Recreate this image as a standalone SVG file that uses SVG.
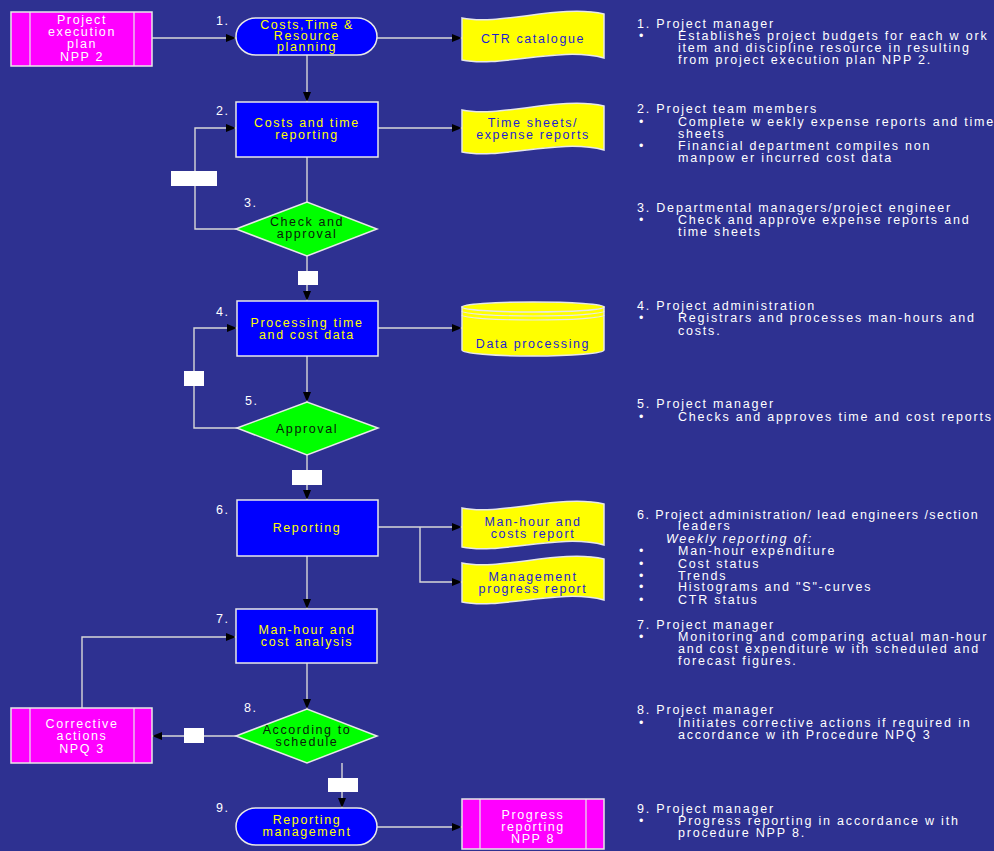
<svg xmlns="http://www.w3.org/2000/svg" width="994" height="851" viewBox="0 0 994 851">
<defs>
<style>
.bg{fill:#2E3191}
.blue{fill:#0000FF;stroke:#E8E8E8;stroke-width:1.5}
.mag{fill:#FF00FF;stroke:#E8E8E8;stroke-width:1.5}
.grn{fill:#00FF00;stroke:#E8E8E8;stroke-width:1.5}
.yel{fill:#FFFF00;stroke:#E8E8E8;stroke-width:1.5}
.rim{fill:none;stroke:#E8E8E8;stroke-width:1.2}
.conn{fill:none;stroke:#D8D8D8;stroke-width:1.4}
.lbl{fill:#FFFFFF}
text{font-family:"Liberation Sans",Arial,sans-serif;font-size:12.5px;letter-spacing:1.6px}
.d{letter-spacing:1.8px}
.n{letter-spacing:1.45px}
.c{text-anchor:middle}
.ty{fill:#FFFF00}
.tw{fill:#FFFFFF}
.tb{fill:#1E1ED2}
.tk{fill:#0A1A0A}
.it{font-style:italic}
</style>
<marker id="ah" markerWidth="10" markerHeight="8" refX="10" refY="4" orient="auto" markerUnits="userSpaceOnUse">
<path d="M0,0 L10,4 L0,8 Z" fill="#000"/>
</marker>
</defs>
<rect class="bg" x="0" y="0" width="994" height="851"/>

<g id="connectors">
<path class="conn" d="M152,38 L236,38" marker-end="url(#ah)"/>
<path class="conn" d="M377,38 L462,38" marker-end="url(#ah)"/>
<path class="conn" d="M307,55 L307,102" marker-end="url(#ah)"/>
<path class="conn" d="M378,128 L462,128" marker-end="url(#ah)"/>
<path class="conn" d="M307,157 L307,202"/>
<path class="conn" d="M236,229 L195,229 L195,128 L236,128" marker-end="url(#ah)"/>
<path class="conn" d="M307,256 L307,301" marker-end="url(#ah)"/>
<path class="conn" d="M378,328 L462,328" marker-end="url(#ah)"/>
<path class="conn" d="M307,356 L307,402" marker-end="url(#ah)"/>
<path class="conn" d="M237,428 L194,428 L194,328 L237,328" marker-end="url(#ah)"/>
<path class="conn" d="M307,455 L307,500" marker-end="url(#ah)"/>
<path class="conn" d="M378,527 L462,527" marker-end="url(#ah)"/>
<path class="conn" d="M420,527 L420,582 L462,582" marker-end="url(#ah)"/>
<path class="conn" d="M307,556 L307,609" marker-end="url(#ah)"/>
<path class="conn" d="M307,663 L307,709" marker-end="url(#ah)"/>
<path class="conn" d="M236,736 L152,736" marker-end="url(#ah)"/>
<path class="conn" d="M82,708 L82,637 L236,637" marker-end="url(#ah)"/>
<path class="conn" d="M342,763 L342,808" marker-end="url(#ah)"/>
<path class="conn" d="M377,827 L462,827" marker-end="url(#ah)"/>
<rect class="lbl" x="171" y="171" width="46" height="15"/>
<rect class="lbl" x="298" y="271" width="20" height="14"/>
<rect class="lbl" x="184" y="371" width="20" height="15"/>
<rect class="lbl" x="292" y="470" width="30" height="15"/>
<rect class="lbl" x="184" y="728" width="20" height="15"/>
<rect class="lbl" x="328" y="778" width="30" height="14"/>
</g>

<g id="n-project-plan">
<rect class="mag" x="11" y="12" width="141" height="54"/>
<path class="rim" d="M30,12 L30,66 M134,12 L134,66"/>
<text class="c tw" x="82" y="23.5">Project</text>
<text class="c tw" x="82" y="36">execution</text>
<text class="c tw" x="82" y="48">plan</text>
<text class="c tw" x="82" y="60.5">NPP 2</text>
</g>

<g id="n1">
<text class="tw" x="216" y="24.5">1.</text>
<rect class="blue" x="236" y="18" width="141" height="37" rx="20" ry="18.5"/>
<text class="c ty" x="307" y="28.5">Costs,Time &amp;</text>
<text class="c ty" x="307" y="40">Resource</text>
<text class="c ty" x="307" y="50.5">planning</text>
</g>

<g id="n-ctr">
<path class="yel" d="M462,18 C500,26 560,4 604,14 L604,58 C560,46 500,68 462,60 Z"/>
<text class="c tb" x="533" y="42.5">CTR catalogue</text>
</g>

<g id="n2">
<text class="tw" x="216" y="114.5">2.</text>
<rect class="blue" x="236" y="102" width="142" height="55"/>
<text class="c ty" x="307" y="126.5">Costs and time</text>
<text class="c ty" x="307" y="138.5">reporting</text>
</g>

<g id="n-timesheets">
<path class="yel" d="M462,110 C500,118 560,96 604,106 L604,150 C560,138 500,160 462,152 Z"/>
<text class="c tb" x="533" y="126.5">Time sheets/</text>
<text class="c tb" x="533" y="138.5">expense reports</text>
</g>

<g id="n3">
<text class="tw" x="244" y="206.5">3.</text>
<polygon class="grn" points="236,229 307,202 377,229 307,256"/>
<text class="c tk" x="307" y="225.5">Check and</text>
<text class="c tk" x="307" y="238">approval</text>
</g>

<g id="n4">
<text class="tw" x="216" y="315.5">4.</text>
<rect class="blue" x="237" y="301" width="141" height="55"/>
<text class="c ty" x="307" y="326.5">Processing time</text>
<text class="c ty" x="307" y="338.5">and cost data</text>
</g>

<g id="n-dataproc">
<path class="yel" d="M462,307 L462,350 A71,6 0 0 0 604,350 L604,307 Z"/>
<ellipse class="yel" cx="533" cy="307" rx="71" ry="5"/>
<path class="rim" d="M462,311 A71,5 0 0 0 604,311 M462,315 A71,5 0 0 0 604,315"/>
<text class="c tb" x="533" y="347.5">Data processing</text>
</g>

<g id="n5">
<text class="tw" x="245" y="404.5">5.</text>
<polygon class="grn" points="237,428 307,402 378,428 307,455"/>
<text class="c tk" x="307" y="432.5">Approval</text>
</g>

<g id="n6">
<text class="tw" x="216" y="513.5">6.</text>
<rect class="blue" x="237" y="500" width="141" height="56"/>
<text class="c ty" x="307" y="531.5">Reporting</text>
</g>

<g id="n-manhour-report">
<path class="yel" d="M462,508 C500,516 560,494 604,504 L604,545 C560,533 500,555 462,547 Z"/>
<text class="c tb" x="533" y="525.5">Man-hour and</text>
<text class="c tb" x="533" y="537.5">costs report</text>
</g>

<g id="n-mgmt-report">
<path class="yel" d="M462,563 C500,571 560,549 604,559 L604,600 C560,588 500,610 462,602 Z"/>
<text class="c tb" x="533" y="580.5">Management</text>
<text class="c tb" x="533" y="592.5">progress report</text>
</g>

<g id="n7">
<text class="tw" x="216" y="622.5">7.</text>
<rect class="blue" x="236" y="609" width="141" height="54"/>
<text class="c ty" x="307" y="633.5">Man-hour and</text>
<text class="c ty" x="307" y="646">cost analysis</text>
</g>

<g id="n8">
<text class="tw" x="244" y="711.5">8.</text>
<polygon class="grn" points="236,736 307,709 377,736 307,763"/>
<text class="c tk" x="307" y="733.5">According to</text>
<text class="c tk" x="307" y="746">schedule</text>
</g>

<g id="n-corrective">
<rect class="mag" x="11" y="708" width="141" height="55"/>
<path class="rim" d="M30,708 L30,763 M134,708 L134,763"/>
<text class="c tw" x="82" y="727.5">Corrective</text>
<text class="c tw" x="82" y="740">actions</text>
<text class="c tw" x="82" y="752.5">NPQ 3</text>
</g>

<g id="n9">
<text class="tw" x="216" y="811.5">9.</text>
<rect class="blue" x="236" y="808" width="141" height="37" rx="20" ry="18.5"/>
<text class="c ty" x="307" y="824">Reporting</text>
<text class="c ty" x="307" y="836">management</text>
</g>

<g id="n-progress">
<rect class="mag" x="462" y="799" width="142" height="50"/>
<path class="rim" d="M480,799 L480,849 M586,799 L586,849"/>
<text class="c tw" x="533" y="818.5">Progress</text>
<text class="c tw" x="533" y="830.5">reporting</text>
<text class="c tw" x="533" y="842.5">NPP 8</text>
</g>

<g id="descriptions">
<text class="tw d" x="637" y="27.5">1. Project manager</text>
<text class="tw" x="639" y="39.5">•</text>
<text class="tw d" x="678" y="39.5">Establishes project budgets for each w ork</text>
<text class="tw d" x="678" y="51.5">item and discipline resource in resulting</text>
<text class="tw d" x="678" y="64">from project execution plan NPP 2.</text>

<text class="tw d" x="637" y="112.5">2. Project team members</text>
<text class="tw" x="639" y="125.5">•</text>
<text class="tw d" x="678" y="125.5">Complete w eekly expense reports and time</text>
<text class="tw d" x="678" y="137.5">sheets</text>
<text class="tw" x="639" y="150">•</text>
<text class="tw d" x="678" y="150">Financial department compiles non</text>
<text class="tw d" x="678" y="161.5">manpow er incurred cost data</text>

<text class="tw d" x="637" y="211.5">3. Departmental managers/project engineer</text>
<text class="tw" x="639" y="223.5">•</text>
<text class="tw d" x="678" y="223.5">Check and approve expense reports and</text>
<text class="tw d" x="678" y="235.5">time sheets</text>

<text class="tw d" x="637" y="309.5">4. Project administration</text>
<text class="tw" x="639" y="321.5">•</text>
<text class="tw d" x="678" y="321.5">Registrars and processes man-hours and</text>
<text class="tw d" x="678" y="334.5">costs.</text>

<text class="tw d" x="637" y="408">5. Project manager</text>
<text class="tw" x="639" y="420.5">•</text>
<text class="tw d" x="678" y="420.5">Checks and approves time and cost reports</text>

<text class="tw n" x="637" y="518.5">6. Project administration/ lead engineers /section</text>
<text class="tw d" x="678" y="529.5">leaders</text>
<text class="tw d it" x="666" y="542.5">Weekly reporting of:</text>
<text class="tw" x="639" y="554.5">•</text>
<text class="tw d" x="678" y="554.5">Man-hour expenditure</text>
<text class="tw" x="639" y="567.5">•</text>
<text class="tw d" x="678" y="567.5">Cost status</text>
<text class="tw" x="639" y="579.5">•</text>
<text class="tw d" x="678" y="579.5">Trends</text>
<text class="tw" x="639" y="590.5">•</text>
<text class="tw d" x="678" y="590.5">Histograms and "S"-curves</text>
<text class="tw" x="639" y="603.5">•</text>
<text class="tw d" x="678" y="603.5">CTR status</text>

<text class="tw d" x="637" y="628.5">7. Project manager</text>
<text class="tw" x="639" y="641">•</text>
<text class="tw d" x="678" y="641">Monitoring and comparing actual man-hour</text>
<text class="tw d" x="678" y="653">and cost expenditure w ith scheduled  and</text>
<text class="tw d" x="678" y="665">forecast figures.</text>

<text class="tw d" x="637" y="713.5">8. Project manager</text>
<text class="tw" x="639" y="726.5">•</text>
<text class="tw d" x="678" y="726.5">Initiates corrective actions if required in</text>
<text class="tw d" x="678" y="738.5">accordance w ith Procedure NPQ 3</text>

<text class="tw d" x="637" y="812.5">9. Project manager</text>
<text class="tw" x="639" y="825">•</text>
<text class="tw d" x="678" y="825">Progress reporting in accordance w ith</text>
<text class="tw d" x="678" y="837">procedure NPP 8.</text>
</g>
</svg>
